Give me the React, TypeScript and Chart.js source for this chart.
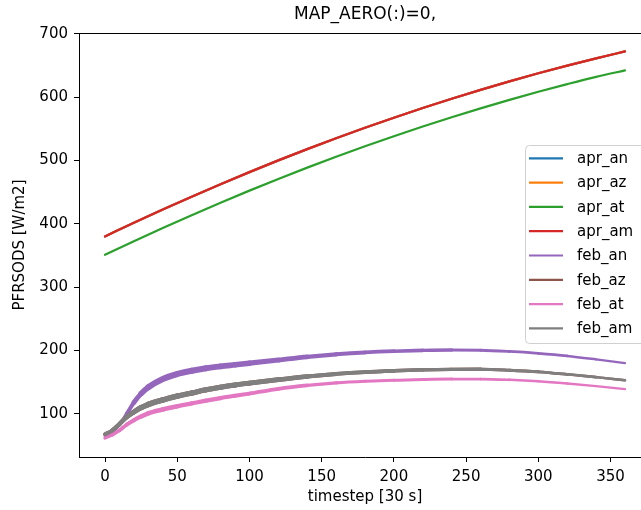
import { useEffect, useRef } from "react";
import { Chart, registerables } from "chart.js";

Chart.register(...registerables);

// ---------------- data ----------------
const chartTitle = "MAP_AERO(:)=0,";
const xAxisTitle = "timestep [30 s]";
const yAxisTitle = "PFRSODS [W/m2]";

const aprTimesteps = [0, 20, 40, 60, 80, 100, 120, 140, 160, 180, 200, 220, 240, 260, 280, 300, 320, 340, 360];
const aprAn = [380, 401.6, 422.5, 442.8, 462.5, 481.5, 500, 517.8, 534.9, 551.5, 567.4, 582.6, 597.3, 611.3, 624.7, 637.4, 649.5, 661, 671.9];
const aprAz = [380, 401.6, 422.5, 442.8, 462.5, 481.5, 500, 517.8, 534.9, 551.5, 567.4, 582.6, 597.3, 611.3, 624.7, 637.4, 649.5, 661, 671.9];
const aprAt = [351, 372.5, 393.3, 413.6, 433.3, 452.3, 470.8, 488.6, 505.7, 522.3, 538.2, 553.4, 568.1, 582.1, 595.5, 608.2, 620.3, 631.8, 642];
const aprAm = [380, 401.6, 422.5, 442.8, 462.5, 481.5, 500, 517.8, 534.9, 551.5, 567.4, 582.6, 597.3, 611.3, 624.7, 637.4, 649.5, 661, 671.9];

const febTimesteps = [0, 5, 10, 15, 20, 25, 30, 40, 50, 60, 70, 80, 90, 100, 120, 140, 160, 180, 200, 220, 240, 260, 280, 300, 320, 340, 360];
const febAn = [66, 72, 83, 100, 118, 132, 142, 155, 163, 168, 172, 175, 177.5, 180, 185, 190, 194, 197, 199, 200.2, 200.8, 200.5, 198.5, 195.5, 191.5, 186, 180];
const febAz = [68, 74, 84, 95, 103, 110, 115, 122, 128, 133, 138, 142, 145.5, 148.5, 154, 159, 163, 166, 168, 169.5, 170.3, 170.5, 169, 166.5, 162.5, 158, 153];
const febAt = [62, 67, 74, 83, 90, 96, 101, 107, 112, 116.5, 121, 125, 128.5, 132, 139.5, 145, 149, 151.5, 153, 154.3, 155, 155, 153.8, 151.5, 148, 143.8, 139];
const febAm = [68, 74, 84, 95, 103, 110, 115, 122, 128, 133, 138, 142, 145.5, 148.5, 154, 159, 163, 166, 168, 169.5, 170.3, 170.5, 169, 166.5, 162.5, 158, 153];

const seriesLabels = ["apr_an", "apr_az", "apr_at", "apr_am", "feb_an", "feb_az", "feb_at", "feb_am"];
const seriesValues = [aprAn, aprAz, aprAt, aprAm, febAn, febAz, febAt, febAm];
const seriesTimesteps = [aprTimesteps, aprTimesteps, aprTimesteps, aprTimesteps, febTimesteps, febTimesteps, febTimesteps, febTimesteps];

const xTicks = [0, 50, 100, 150, 200, 250, 300, 350];
const yTicks = [100, 200, 300, 400, 500, 600, 700];
const xMin = -18;
const xMax = 378;
const yMin = 32;
const yMax = 701;

// ---------------- styles ----------------
const seriesColors = ["#1f77b4", "#ff7f0e", "#2ca02c", "#d62728", "#9467bd", "#8c564b", "#e377c2", "#7f7f7f"];
// apparent thickness of the noisy band drawn by each feb series [timestep, px]
const bandKnots: Record<string, number[][]> = {
  feb_an: [[0, 3], [15, 3.5], [30, 6.2], [60, 6.2], [120, 5], [170, 4], [260, 3], [360, 2.2]],
  feb_az: [[0, 3.5], [30, 5.5], [120, 4.6], [170, 3.8], [360, 2.4]],
  feb_at: [[0, 3.2], [30, 4.6], [120, 3.8], [170, 3.2], [360, 2.2]],
  feb_am: [[0, 3.5], [30, 5.5], [120, 4.6], [170, 3.8], [360, 2.4]],
};
const FONT = '"DejaVu Sans", sans-serif';

function knotWidth(knots: number[][], t: number): number {
  if (t <= knots[0][0]) return knots[0][1];
  for (let i = 1; i < knots.length; i++) {
    if (t <= knots[i][0]) {
      const [t0, w0] = knots[i - 1];
      const [t1, w1] = knots[i];
      return w0 + ((w1 - w0) * (t - t0)) / (t1 - t0);
    }
  }
  return knots[knots.length - 1][1];
}

const decorPlugin = {
  id: "decor",
  afterDraw(chart: any) {
    const { ctx, chartArea } = chart;
    const { left, right, top } = chartArea;
    ctx.save();
    // top and right spines
    ctx.strokeStyle = "#000";
    ctx.lineWidth = 1;
    ctx.beginPath();
    const ty = Math.round(top - 0.5) + 0.5;
    ctx.moveTo(left, ty);
    ctx.lineTo(right, ty);
    ctx.stroke();
    const rx = Math.round(right - 0.5) + 0.5;
    ctx.beginPath();
    ctx.moveTo(rx, top);
    ctx.lineTo(rx, chartArea.bottom);
    ctx.stroke();

    // title
    ctx.fillStyle = "#000";
    ctx.font = `17px ${FONT}`;
    ctx.textAlign = "center";
    ctx.textBaseline = "alphabetic";
    ctx.fillText(chartTitle, (left + right) / 2, 19);

    // legend
    const bx = 525.5;
    const by = 145.5;
    const bw = 130;
    const bh = 198;
    const r = 4;
    ctx.beginPath();
    ctx.moveTo(bx + r, by);
    ctx.lineTo(bx + bw - r, by);
    ctx.arcTo(bx + bw, by, bx + bw, by + r, r);
    ctx.lineTo(bx + bw, by + bh - r);
    ctx.arcTo(bx + bw, by + bh, bx + bw - r, by + bh, r);
    ctx.lineTo(bx + r, by + bh);
    ctx.arcTo(bx, by + bh, bx, by + bh - r, r);
    ctx.lineTo(bx, by + r);
    ctx.arcTo(bx, by, bx + r, by, r);
    ctx.closePath();
    ctx.fillStyle = "rgba(255,255,255,0.8)";
    ctx.fill();
    ctx.strokeStyle = "#d0d0d0";
    ctx.lineWidth = 1;
    ctx.stroke();

    ctx.font = `15px ${FONT}`;
    ctx.textAlign = "left";
    ctx.textBaseline = "middle";
    chart.data.datasets.forEach((ds: any, i: number) => {
      const cy = 158.3 + i * 24.3;
      ctx.strokeStyle = ds.borderColor;
      ctx.lineWidth = 2.2;
      ctx.lineCap = "butt";
      ctx.beginPath();
      ctx.moveTo(529, cy);
      ctx.lineTo(563, cy);
      ctx.stroke();
      ctx.fillStyle = "#000";
      ctx.fillText(ds.label, 577, cy + 1);
    });
    ctx.restore();
  },
};

export default function App() {
  const canvasRef = useRef<HTMLCanvasElement | null>(null);

  useEffect(() => {
    const canvas = canvasRef.current;
    if (!canvas) return;
    const datasets = seriesLabels.map((label, i) => {
      const knots = bandKnots[label];
      const ts = seriesTimesteps[i];
      const ds: any = {
        label,
        data: ts.map((t, j) => ({ x: t, y: seriesValues[i][j] })),
        borderColor: seriesColors[i],
        backgroundColor: seriesColors[i],
        borderWidth: 2.2,
        pointRadius: 0,
        pointHoverRadius: 0,
        fill: false,
        cubicInterpolationMode: "monotone",
        borderCapStyle: "round",
        borderJoinStyle: "round",
        order: -i,
      };
      if (knots) {
        ds.segment = {
          borderWidth: (c: any) => knotWidth(knots, (c.p0.parsed.x + c.p1.parsed.x) / 2),
        };
      }
      return ds;
    });

    const chart = new Chart(canvas, {
      type: "line",
      data: { datasets },
      plugins: [decorPlugin],
      options: {
        animation: false,
        responsive: false,
        events: [],
        layout: { padding: { top: 33, right: 9, left: 0, bottom: 0 } },
        plugins: {
          legend: { display: false },
          title: { display: false },
          tooltip: { enabled: false },
        },
        scales: {
          x: {
            type: "linear",
            min: xMin,
            max: xMax,
            afterFit: (s: any) => {
              s.height = 53;
            },
            afterBuildTicks: (s: any) => {
              s.ticks = xTicks.map((v) => ({ value: v }));
            },
            grid: { drawOnChartArea: false, drawTicks: true, tickLength: 5, tickColor: "#000", tickWidth: 1 },
            border: { display: true, color: "#000", width: 1 },
            ticks: { color: "#000", font: { family: FONT, size: 15 }, padding: 6, maxRotation: 0, autoSkip: false },
            title: { display: true, text: xAxisTitle, color: "#000", font: { family: FONT, size: 15 }, padding: { top: 0, bottom: 3.5 } },
          },
          y: {
            type: "linear",
            min: yMin,
            max: yMax,
            afterFit: (s: any) => {
              s.width = 79;
            },
            afterBuildTicks: (s: any) => {
              s.ticks = yTicks.map((v) => ({ value: v }));
            },
            grid: { drawOnChartArea: false, drawTicks: true, tickLength: 5, tickColor: "#000", tickWidth: 1 },
            border: { display: true, color: "#000", width: 1 },
            ticks: { color: "#000", font: { family: FONT, size: 15 }, padding: 6, autoSkip: false },
            title: { display: true, text: yAxisTitle, color: "#000", font: { family: FONT, size: 15 }, padding: { top: 11, bottom: 0 } },
          },
        },
      },
    });
    return () => chart.destroy();
  }, []);

  return (
    <div style={{ position: "fixed", left: 0, top: 0, width: 641, height: 510, overflow: "hidden", background: "#fff" }}>
      <canvas ref={canvasRef} width={660} height={510} style={{ display: "block", width: 660, height: 510 }} />
    </div>
  );
}
